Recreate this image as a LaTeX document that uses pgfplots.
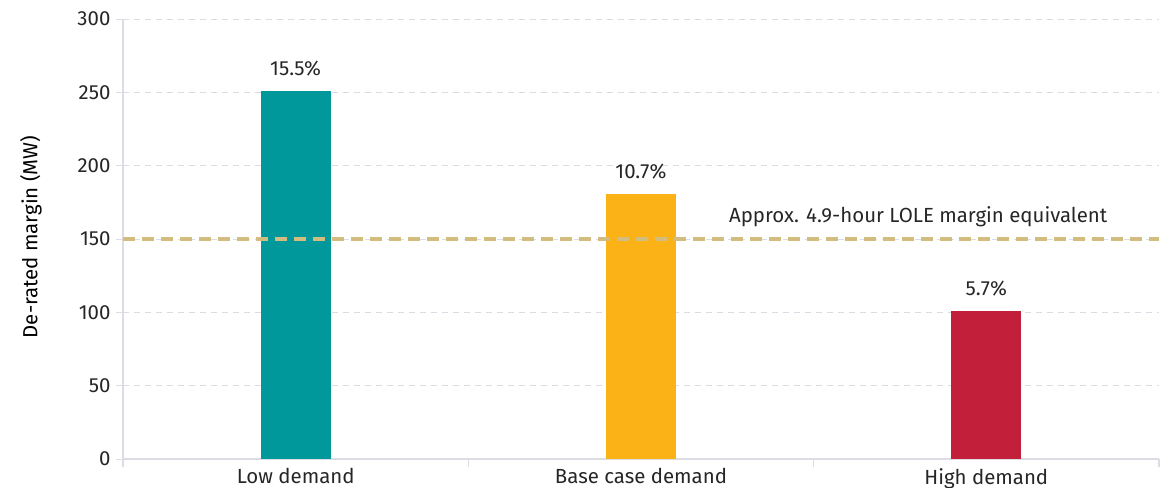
\documentclass[border=0pt]{standalone}
\usepackage{pgfplots}
\pgfplotsset{compat=1.18}
\usepackage{fontspec}
\setmainfont{Fira Sans}
\definecolor{teal}{HTML}{00989A}
\definecolor{amber}{HTML}{FBB217}
\definecolor{crimson}{HTML}{C21F3B}
\definecolor{lole}{HTML}{D2BC7E}
\definecolor{axisgray}{HTML}{DCDCE4}
\definecolor{txt}{HTML}{262626}
\begin{document}
\begin{tikzpicture}
\useasboundingbox (-123bp,-29bp) rectangle (1048bp,459bp);
\begin{axis}[
  scale only axis,
  width=1036bp, height=440bp,
  xmin=-0.5, xmax=2.5,
  ymin=0, ymax=300,
  ytick={0,50,...,300},
  xtick={0,1,2},
  xticklabels={Low demand, Base case demand, High demand},
  minor xtick={-0.5,0.5,1.5,2.5},
  major x tick style={draw=none},
  minor x tick style={draw=axisgray, line width=1.2pt},
  y tick style={draw=axisgray, line width=1pt},
  tick align=outside,
  major tick length=7bp, minor tick length=8bp,
  axis x line*=bottom, axis y line*=left,
  axis line style={draw=axisgray, line width=1.5pt, -},
  ymajorgrids,
  major grid style={draw=axisgray, dash pattern=on 6bp off 5bp, line width=0.8pt},
  /pgf/number format/assume math mode=true,
  font=\fontsize{20.5}{24}\selectfont,
  every tick label/.append style={text=txt},
  yticklabel style={xshift=-2bp},
  xticklabel style={yshift=1bp},
  ylabel={De-rated margin (MW)},
  ylabel style={text=txt, font=\fontsize{20.5}{24}\selectfont},
  every axis y label/.style={at={(rel axis cs:0,0.5)}, rotate=90, anchor=center, yshift=92bp, xshift=2bp},
  ybar, bar shift=0pt, bar width=70bp,
  point meta=explicit symbolic,
  nodes near coords={\pgfplotspointmeta\%},
  every node near coord/.append style={anchor=base, yshift=15bp, text=txt, font=\fontsize{20.5}{24}\selectfont},
  clip=false,
]
\addplot[fill=teal, draw=none] coordinates {(0,251) [15.5]};
\addplot[fill=amber, draw=none] coordinates {(1,181) [10.7]};
\addplot[fill=crimson, draw=none] coordinates {(2,101) [5.7]};
% loss-of-load-expectation reference level
\addplot[sharp plot, draw=lole, line width=4bp, dash pattern=on 12bp off 7bp, nodes near coords={}, forget plot]
  coordinates {(-0.5,150) [] (2.5,150) []};
\node[anchor=base west, text=txt, font=\fontsize{20.5}{24}\selectfont] at (axis cs:1.245,161.5) {Approx. 4.9-hour LOLE margin equivalent};
\end{axis}
\end{tikzpicture}
\end{document}
